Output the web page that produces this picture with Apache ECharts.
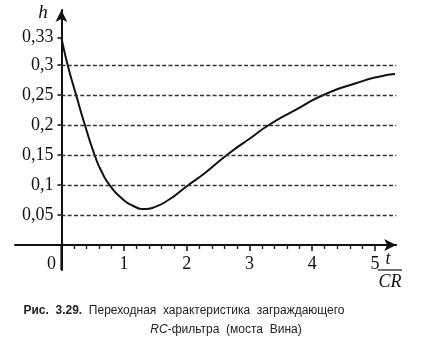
<!DOCTYPE html>
<html>
<head>
<meta charset="utf-8">
<style>html,body{margin:0;padding:0;background:#fff;}#c{width:425px;height:364px;}</style>
<script src="https://cdn.jsdelivr.net/npm/echarts@6/dist/echarts.min.js"></script>
</head>
<body>
<div id="c"></div>
<script>
// Curve (t/CR, h), in the figure's own grid scale
const tValues = [0, 0.1, 0.235, 0.375, 0.53, 0.643, 0.775, 0.962, 1.148, 1.334, 1.494, 1.706, 2.0, 2.29, 2.64, 3.04, 3.31, 3.75, 4.18, 4.71, 5.08, 5.32];
const hValues = [0.346, 0.300, 0.250, 0.200, 0.150, 0.122, 0.099, 0.078, 0.065, 0.060, 0.0635, 0.075, 0.098, 0.120, 0.150, 0.180, 0.200, 0.226, 0.250, 0.270, 0.281, 0.285];
// Tick values and labels
const yTickValues = [0.05, 0.1, 0.15, 0.2, 0.25, 0.3, 0.346];
const yTickLabels = ['0,05', '0,1', '0,15', '0,2', '0,25', '0,3', '0,33'];
const yGridValues = [0.05, 0.1, 0.15, 0.2, 0.25, 0.3];
const xMajorValues = [0, 1, 2, 3, 4, 5];
const xMajorLabels = ['0', '1', '2', '3', '4', '5'];
const xMinorValues = [0.2,0.4,0.6,0.8,1.2,1.4,1.6,1.8,2.2,2.4,2.6,2.8,3.2,3.4,3.6,3.8,4.2,4.4,4.6,4.8];
const xRange = [-0.74, 5.34];
const yRange = [-0.0417, 0.3917];
const gridLineEnd = 5.34;

const W = 425, H = 364;
const grid = {left: 15, right: 28.8, top: 10, bottom: 94};
const plotW = W - grid.left - grid.right, plotH = H - grid.top - grid.bottom;
// distance (px) from grid edge to the zero of the other axis, so the axes cross at the origin
const yAxisOffset = -plotW * (0 - xRange[0]) / (xRange[1] - xRange[0]);
const xAxisOffset = -plotH * (0 - yRange[0]) / (yRange[1] - yRange[0]);
const originX = grid.left - yAxisOffset, originY = H - grid.bottom + xAxisOffset, bottomY = H - grid.bottom;

const chart = echarts.init(document.getElementById('c'), null, {renderer: 'canvas'});
const serif = '"Liberation Serif", "DejaVu Serif", serif';
const sans = '"Liberation Sans", Arial, sans-serif';

function yLabel(v) {
  for (let i = 0; i < yTickValues.length; i++) if (Math.abs(yTickValues[i] - v) < 1e-6) return yTickLabels[i];
  return '';
}
function xLabel(v) {
  for (let i = 0; i < xMajorValues.length; i++) if (Math.abs(xMajorValues[i] - v) < 1e-6) return i === 0 ? '{z|' + xMajorLabels[i] + '}' : xMajorLabels[i];
  return '';
}

const axisLine = {show: true, onZero: false, lineStyle: {color: '#111', width: 2}, symbol: ['none', 'arrow'], symbolSize: [9, 12]};

chart.setOption({
  animation: false,
  backgroundColor: '#fff',
  grid: Object.assign({containLabel: false, outerBoundsMode: 'none'}, grid),
  xAxis: [{
    type: 'value', min: xRange[0], max: xRange[1], position: 'bottom', offset: xAxisOffset,
    axisLine: axisLine,
    axisTick: {show: true, customValues: xMajorValues, length: 6, inside: false, lineStyle: {color: '#111', width: 1.5}},
    axisLabel: {show: true, customValues: xMajorValues, formatter: xLabel, margin: 10,
      fontFamily: serif, fontSize: 18, color: '#111',
      rich: {z: {fontFamily: serif, fontSize: 18, color: '#111', padding: [0, 20, 0, 0]}}},
    splitLine: {show: false}
  }, {
    type: 'value', min: xRange[0], max: xRange[1], position: 'bottom', offset: xAxisOffset,
    axisLine: {show: false, onZero: false},
    axisTick: {show: true, customValues: xMinorValues, length: 4, inside: false, lineStyle: {color: '#111', width: 1.3}},
    axisLabel: {show: false},
    splitLine: {show: false}
  }],
  yAxis: {
    type: 'value', min: yRange[0], max: yRange[1], position: 'left', offset: yAxisOffset,
    axisLine: axisLine,
    axisTick: {show: true, customValues: yTickValues, length: 4, inside: false, lineStyle: {color: '#111', width: 1.5}},
    axisLabel: {show: true, customValues: yTickValues, formatter: yLabel, margin: 8,
      fontFamily: serif, fontSize: 18, color: '#111'},
    splitLine: {show: false}
  },
  series: [{
    type: 'line',
    xAxisIndex: 0,
    data: tValues.map((t, i) => [t, hValues[i]]),
    smooth: 0.6,
    showSymbol: false,
    lineStyle: {color: '#111', width: 2},
    markLine: {
      silent: true, symbol: 'none', animation: false,
      label: {show: false},
      lineStyle: {color: '#333', width: 1.3, type: [4, 2.3]},
      data: yGridValues.map(v => [{coord: [0, v]}, {coord: [gridLineEnd, v]}])
    }
  }],
  graphic: [
    {type: 'line', z: 100, shape: {x1: originX, y1: originY, x2: originX, y2: bottomY}, style: {stroke: '#111', lineWidth: 2}},
    {type: 'text', x: 43, y: 13, style: {text: 'h', font: 'italic 19px ' + serif, fill: '#111', align: 'center', verticalAlign: 'middle'}},
    {type: 'text', x: 388, y: 259, style: {text: 't', font: 'italic 18px ' + serif, fill: '#111', align: 'center', verticalAlign: 'middle'}},
    {type: 'line', shape: {x1: 378, y1: 270, x2: 402, y2: 270}, style: {stroke: '#111', lineWidth: 1.2}},
    {type: 'text', x: 390, y: 282, style: {text: 'CR', font: 'italic 18px ' + serif, fill: '#111', align: 'center', verticalAlign: 'middle'}},
    {type: 'text', x: 184, y: 311, style: {
      text: '{b|Рис.  3.29.}  Переходная  характеристика  заграждающего',
      font: '12px ' + sans, fill: '#222', align: 'center', verticalAlign: 'middle',
      rich: {b: {font: 'bold 12px ' + sans, fill: '#222'}}}},
    {type: 'text', x: 226, y: 330, style: {
      text: '{i|RC}-фильтра  (моста  Вина)',
      font: '12px ' + sans, fill: '#222', align: 'center', verticalAlign: 'middle',
      rich: {i: {font: 'italic 12px ' + sans, fill: '#222'}}}}
  ]
});
</script>
</body>
</html>
